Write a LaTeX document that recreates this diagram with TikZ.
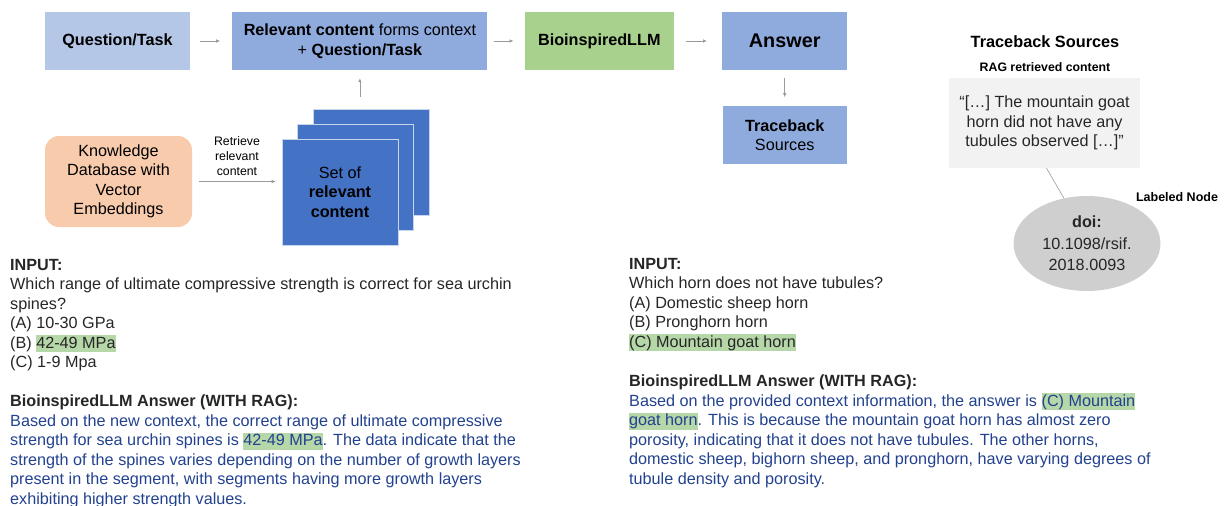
\documentclass[tikz,border=0pt]{standalone}
\usepackage{fontspec}
\setmainfont{Liberation Sans}
\usepackage{tikz}
\usetikzlibrary{positioning,shapes,arrows.meta}
\definecolor{qblue}{HTML}{B4C7E7}
\definecolor{midblue}{HTML}{8FAADC}
\definecolor{setblue}{HTML}{4472C4}
\definecolor{llmgreen}{HTML}{A9D18E}
\definecolor{dbpeach}{HTML}{F8CBAD}
\definecolor{raggrey}{HTML}{F2F2F2}
\definecolor{doigrey}{HTML}{CFCFCF}
\definecolor{arrowgrey}{HTML}{9A9A9A}
\definecolor{hlgreen}{HTML}{B6D7A8}
\definecolor{ansblue}{HTML}{22418F}
\tikzstyle{box}=[rectangle, text centered, text=black, inner sep=2pt, minimum height=58pt, align=center, font=\fontsize{16.2}{19.5}\selectfont]
\tikzstyle{setbox}=[rectangle, fill=setblue, draw=white!70!setblue, line width=0.6pt, minimum width=116pt, minimum height=106pt]
\tikzstyle{para}=[anchor=north west, inner sep=0pt, align=left, text=black!85, font=\fontsize{16.2}{19.5}\selectfont]
\tikzstyle{small}=[inner sep=0pt, align=center, font=\fontsize{12.3}{15}\selectfont]
\tikzstyle{conn}=[->, draw=arrowgrey, line width=0.7pt]
\tikzset{>={Latex[length=4pt,width=3.5pt]}}
\newcommand{\hl}[1]{{\setlength{\fboxsep}{0pt}\colorbox{hlgreen}{\rule[-4pt]{0pt}{17pt}#1}}}

\begin{document}
\begin{tikzpicture}[x=1pt, y=-1pt]
        \useasboundingbox (0,0) rectangle (1224,506);

        % top row
        \node (qtask) [box, fill=qblue, minimum width=145pt] at (117.5,41) {\textbf{Question/Task}};
        \node (context) [box, fill=midblue, minimum width=255pt, right=42pt of qtask] {\textbf{Relevant content} forms context\\+ \textbf{Question/Task}};
        \node (llm) [box, fill=llmgreen, minimum width=149pt, right=37pt of context] {\textbf{BioinspiredLLM}};
        \node (answer) [box, fill=midblue, minimum width=125pt, right=48pt of llm, font=\fontsize{19.8}{22}\selectfont] {\textbf{Answer}};
        \node (trace) [box, fill=midblue, minimum width=124pt, below=36pt of answer] {\textbf{Traceback}\\Sources};

        \draw [conn, shorten <=10pt, shorten >=12pt] (qtask) -- (context);
        \draw [conn, shorten <=6pt, shorten >=11pt] (context) -- (llm);
        \draw [conn, shorten <=12pt, shorten >=15pt] (llm) -- (answer);
        \draw [conn, shorten <=8pt, shorten >=9pt] (answer) -- (trace);

        % retrieval
        \node (kdb) [box, fill=dbpeach, rounded corners=14pt, minimum width=147pt, minimum height=91pt] at (118.5,181.5) {Knowledge\\Database with\\Vector\\Embeddings};
        \foreach \k in {2,1}{
            \node (set\k) [setbox] at (340+15.5*\k, 192-15*\k) {};
        };
        \node (set0) [setbox, box, minimum height=106pt] at (340,192) {Set of\\\textbf{relevant}\\\textbf{content}};

        \draw [conn, shorten <=7pt, shorten >=6pt] (kdb.east) -- node[small, above=6pt] {Retrieve\\relevant\\content} (kdb.east -| set0.west);
        \draw [conn, shorten <=12pt, shorten >=8pt] (context.south |- set2.north) -- (context.south);

        % traceback sources
        \node (tracetitle) [inner sep=0pt, font=\fontsize{16.3}{19}\selectfont\bfseries] at (1045,42) {Traceback Sources};
        \node (raglabel) [small, font=\fontsize{12.3}{15}\selectfont\bfseries] at (1045,67) {RAG retrieved content};
        \node (ragbox) [box, fill=raggrey, text=black!85, minimum width=191pt, minimum height=90pt] at (1044.5,123) {“[…] The mountain goat\\horn did not have any\\tubules observed […]”};
        \node (doi) [ellipse, fill=doigrey, inner sep=0pt, minimum width=147pt, minimum height=95pt, align=center, text=black!85, font=\fontsize{16.2}{21.5}\selectfont] at (1087,243.5) {\textbf{doi:}\\10.1098/rsif.\\2018.0093};
        \node (doilabel) [small, font=\fontsize{12.5}{15}\selectfont\bfseries] at (1177,197) {Labeled Node};
        \draw [arrowgrey, line width=0.6pt] ([xshift=2pt]ragbox.south) -- (doi.117);

        % questions and answers
        \node (inleft) [para] at (10,259) {\textbf{INPUT:}\\Which range of ultimate compressive strength is correct for sea urchin\\spines?\\(A) 10-30 GPa\\(B) \hl{42-49 MPa}\\(C) 1-9 Mpa};
        \node (ansleft) [para] at (10,395) {\textbf{BioinspiredLLM Answer (WITH RAG):}\\\color{ansblue}Based on the new context, the correct range of ultimate compressive\\\color{ansblue}strength for sea urchin spines is \hl{42-49 MPa}. The data indicate that the\\\color{ansblue}strength of the spines varies depending on the number of growth layers\\\color{ansblue}present in the segment, with segments having more growth layers\\\color{ansblue}exhibiting higher strength values.};

        \node (inright) [para] at (629,258) {\textbf{INPUT:}\\Which horn does not have tubules?\\(A) Domestic sheep horn\\(B) Pronghorn horn\\\hl{(C) Mountain goat horn}};
        \node (ansright) [para] at (629,375) {\textbf{BioinspiredLLM Answer (WITH RAG):}\\\color{ansblue}Based on the provided context information, the answer is \hl{(C) Mountain}\\\color{ansblue}\hl{goat horn}. This is because the mountain goat horn has almost zero\\\color{ansblue}porosity, indicating that it does not have tubules. The other horns,\\\color{ansblue}domestic sheep, bighorn sheep, and pronghorn, have varying degrees of\\\color{ansblue}tubule density and porosity.};

    \end{tikzpicture}
\end{document}
